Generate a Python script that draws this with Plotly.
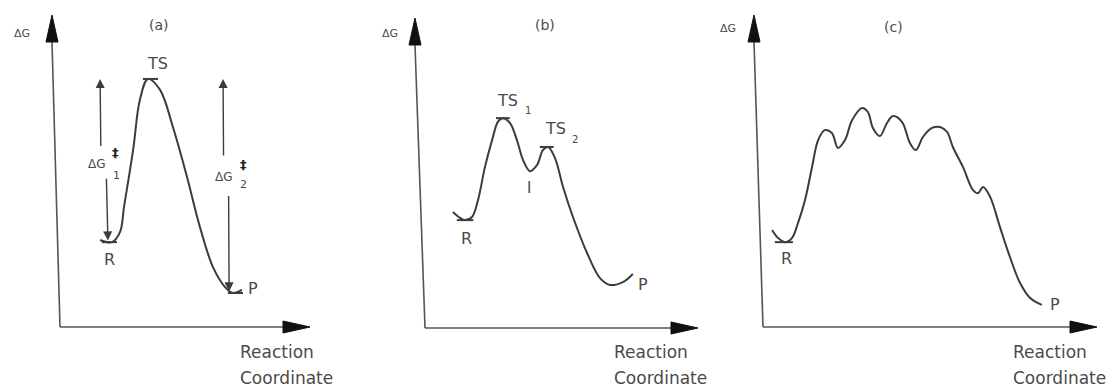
import plotly.graph_objects as go

# ---------------- data (reaction coordinate, free energy; arbitrary units 0-10) -------------
a_x = [1.67, 2.14, 2.46, 2.62, 2.98, 3.25, 3.57, 4.05, 4.56, 5.12, 5.63, 6.15, 6.63, 6.94, 7.30]
a_g = [2.79, 2.72, 3.04, 3.85, 5.67, 7.28, 7.95, 7.60, 6.41, 4.81, 3.21, 1.92, 1.28, 1.09, 1.19]

b_x = [1.12, 1.38, 1.56, 1.81, 2.03, 2.28, 2.54, 2.75, 2.93, 3.19, 3.44, 3.66, 3.91, 4.17,
       4.38, 4.57, 4.82, 5.11, 5.47, 5.98, 6.45, 6.81, 7.28, 7.64]
b_g = [3.74, 3.55, 3.48, 3.58, 4.13, 5.19, 6.06, 6.65, 6.77, 6.61, 6.06, 5.42, 5.06, 5.26,
       5.74, 5.84, 5.48, 4.55, 3.58, 2.42, 1.61, 1.39, 1.48, 1.74]

c_x = [0.33, 0.51, 0.71, 0.92, 1.10, 1.31, 1.52, 1.70, 1.90, 2.11, 2.29, 2.50, 2.71, 3.01,
       3.18, 3.33, 3.54, 3.75, 3.93, 4.20, 4.43, 4.61, 4.82, 5.09, 5.33, 5.54, 5.71, 6.01,
       6.31, 6.46, 6.61, 6.82, 7.11, 7.41, 7.71, 8.01, 8.36]
c_g = [3.11, 2.85, 2.72, 2.85, 3.33, 4.07, 5.13, 5.99, 6.31, 6.22, 5.74, 5.99, 6.63, 7.02,
       6.89, 6.38, 6.12, 6.54, 6.76, 6.57, 5.90, 5.67, 6.09, 6.38, 6.41, 6.25, 5.77, 5.13,
       4.39, 4.29, 4.49, 4.17, 3.21, 2.24, 1.41, 0.93, 0.71]

# labelled states: (label, index of point in the curve)
a_states = [("R", 1), ("TS", 6), ("P", 13)]
b_states = [("R", 2), ("TS1", 8), ("I", 12), ("TS2", 15), ("P", 21)]
c_states = [("R", 2), ("P", 36)]

panel_titles = ["(a)", "(b)", "(c)"]
y_title = "ΔG"
x_title_1 = "Reaction"
x_title_2 = "Coordinate"

# ---------------- layout geometry (pixels of the 1112x389 canvas) ----------------
W, H = 1112, 389
def px(x): return x / W
def py(y): return 1 - y / H

# origin (x, y), x tip, y tip, top-of-y-axis x (slight slant of the scanned figure)
panels = [
    dict(ox=58, oy=327, xt=310, yt=15, ytx=52, bx=60),
    dict(ox=422, oy=328, xt=698, yt=18, ytx=415, bx=425),
    dict(ox=761, oy=327, xt=1097, yt=15, ytx=754, bx=763),
]

INK = "#3c3c3c"
TXT = "#4a4a4a"
FONT = "DejaVu Sans, Arial, sans-serif"

fig = go.Figure()
curves = [(a_x, a_g), (b_x, b_g), (c_x, c_g)]
for i, (xs, gs) in enumerate(curves):
    n = "" if i == 0 else str(i + 1)
    fig.add_trace(go.Scatter(x=xs, y=gs, mode="lines",
                             line=dict(color=INK, width=2, shape="spline", smoothing=1.0),
                             xaxis="x" + n, yaxis="y" + n, hoverinfo="skip"))
    p = panels[i]
    fig.layout["xaxis" + n] = dict(domain=[px(p["ox"]), px(p["xt"])], range=[0, 10],
                                   visible=False, anchor="y" + n, fixedrange=True)
    fig.layout["yaxis" + n] = dict(domain=[py(p["oy"]), py(p["yt"])], range=[0, 10],
                                   visible=False, anchor="x" + n, fixedrange=True)

shapes = []
ann = []

def T(x, y, text, size, xref="paper", yref="paper", xanchor="center", yanchor="middle", color=TXT):
    ann.append(dict(x=x, y=y, xref=xref, yref=yref, text=text, showarrow=False,
                    xanchor=xanchor, yanchor=yanchor, font=dict(family=FONT, size=size, color=color)))

# axes with arrowheads
for i, p in enumerate(panels):
    HL = 27  # head length
    # y axis
    shapes.append(dict(type="line", xref="paper", yref="paper",
                       x0=px(p["bx"]), y0=py(p["oy"]), x1=px(p["ytx"]), y1=py(p["yt"] + HL),
                       line=dict(color="#555", width=1.6)))
    hx = p["ytx"]
    shapes.append(dict(type="path", xref="paper", yref="paper",
                       path=f"M {px(hx-6)} {py(p['yt']+HL)} L {px(hx)} {py(p['yt'])} L {px(hx+6)} {py(p['yt']+HL)} Z",
                       fillcolor="#111", line=dict(color="#111", width=1)))
    # x axis
    shapes.append(dict(type="line", xref="paper", yref="paper",
                       x0=px(p["bx"]), y0=py(p["oy"]), x1=px(p["xt"] - HL), y1=py(p["oy"]),
                       line=dict(color="#555", width=1.6)))
    shapes.append(dict(type="path", xref="paper", yref="paper",
                       path=f"M {px(p['xt']-HL)} {py(p['oy']-6)} L {px(p['xt'])} {py(p['oy'])} L {px(p['xt']-HL)} {py(p['oy']+6)} Z",
                       fillcolor="#111", line=dict(color="#111", width=1)))

# axis titles and panel titles
T(px(22), py(34), y_title, 11)
T(px(390), py(33), y_title, 11)
T(px(728), py(29), y_title, 11)
T(px(159), py(25), panel_titles[0], 14)
T(px(545), py(25), panel_titles[1], 14)
T(px(893), py(27), panel_titles[2], 14)
for xl in (238, 612, 1011):
    T(px(xl), py(352), x_title_1, 17, xanchor="left")
    T(px(xl), py(378), x_title_2, 17, xanchor="left")

# state ticks and labels
def tick(ax, ay, x, y, half):
    shapes.append(dict(type="line", xref=ax, yref=ay, x0=x - half, x1=x + half, y0=y, y1=y,
                       line=dict(color=INK, width=2)))

# panel a
xa, ya = "x", "y"
r, ts, pp = a_x[a_states[0][1]], a_x[a_states[1][1]], a_x[a_states[2][1]]
rg, tsg, pg = a_g[a_states[0][1]], a_g[a_states[1][1]], a_g[a_states[2][1]]
tick(xa, ya, r - 0.1, rg, 0.3)
tick(xa, ya, ts + 0.1, tsg, 0.3)
tick(xa, ya, pp + 0.1, pg, 0.3)
T(r - 0.08, rg - 0.55, "R", 16, xa, ya)
T(ts + 0.36, tsg + 0.5, "TS", 16, xa, ya)
T(pp + 0.8, pg + 0.15, "P", 16, xa, ya)
# ΔG‡ arrows (double headed, split by label)
def arrow(ax, ay, x0, y0, x1, y1):
    ann.append(dict(x=x1, y=y1, ax=x0, ay=y0, xref=ax, yref=ay, axref=ax, ayref=ay, text="",
                    showarrow=True, arrowhead=2, arrowsize=1.3, arrowwidth=1.4, arrowcolor=INK))
arrow(xa, ya, 1.70, 5.75, 1.67, tsg)
arrow(xa, ya, 1.92, 4.80, 1.98, rg + 0.05)
arrow(xa, ya, 6.57, 5.45, 6.55, tsg)
arrow(xa, ya, 6.77, 4.25, 6.79, pg + 0.05)
T(1.55, 5.22, "ΔG", 12, xa, ya)
T(2.30, 5.60, "<b>‡</b>", 13, xa, ya, color="#222")
T(2.32, 4.85, "1", 11, xa, ya)
T(6.57, 4.80, "ΔG", 12, xa, ya)
T(7.35, 5.22, "<b>‡</b>", 13, xa, ya, color="#222")
T(7.35, 4.58, "2", 11, xa, ya)

# panel b
xb, yb = "x2", "y2"
def bs(k): return b_x[b_states[k][1]], b_g[b_states[k][1]]
x_, g_ = bs(0); tick(xb, yb, x_, g_, 0.3); T(x_ + 0.05, g_ - 0.58, "R", 16, xb, yb)
x_, g_ = bs(1); tick(xb, yb, x_, g_, 0.25); T(x_ + 0.15, g_ + 0.58, "TS", 16, xb, yb); T(x_ + 0.9, g_ + 0.25, "1", 10, xb, yb)
x_, g_ = bs(2); T(x_ - 0.05, g_ - 0.55, "I", 15, xb, yb)
x_, g_ = bs(3); tick(xb, yb, x_ - 0.05, g_, 0.25); T(x_ + 0.25, g_ + 0.6, "TS", 16, xb, yb); T(x_ + 0.97, g_ + 0.25, "2", 10, xb, yb)
x_, g_ = bs(4); T(x_ + 1.2, g_, "P", 16, xb, yb)

# panel c
xc, yc = "x3", "y3"
x_, g_ = c_x[c_states[0][1]], c_g[c_states[0][1]]
tick(xc, yc, x_ - 0.03, g_, 0.27); T(x_ + 0.06, g_ - 0.52, "R", 16, xc, yc)
x_, g_ = c_x[c_states[1][1]], c_g[c_states[1][1]]
T(x_ + 0.4, g_ + 0.02, "P", 16, xc, yc)

fig.update_layout(width=W, height=H, margin=dict(l=0, r=0, t=0, b=0),
                  paper_bgcolor="white", plot_bgcolor="white", showlegend=False,
                  shapes=shapes, annotations=ann)
fig.write_html("out.html", config={"displayModeBar": False},
               post_script="document.body.style.margin='0';document.body.style.overflow='hidden';")
